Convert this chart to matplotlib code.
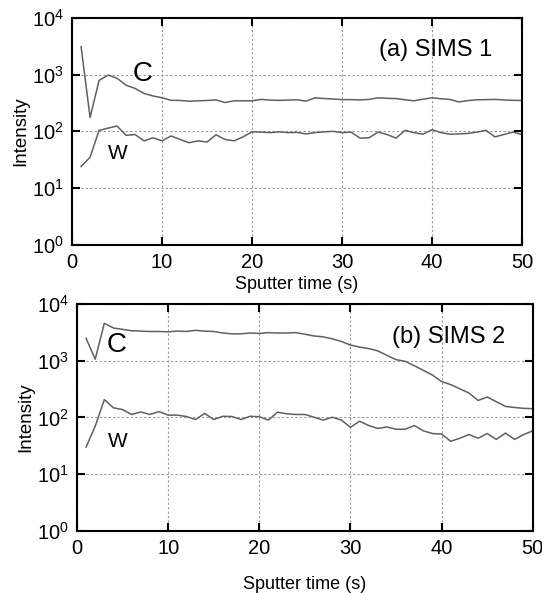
import numpy as np
import matplotlib
matplotlib.use("Agg")
import matplotlib.pyplot as plt
from matplotlib.ticker import LogLocator, NullLocator

plt.rcParams['font.family'] = ['Liberation Sans', 'DejaVu Sans']
plt.rcParams['mathtext.fontset'] = 'custom'
plt.rcParams['mathtext.rm'] = 'Liberation Sans'

# Время распыления, с
time_s = np.arange(1, 51)

# (a) SIMS 1
sims1_C = [3100, 175, 790, 980, 860, 650, 570, 465, 420, 390,
           352, 350, 340, 345, 350, 358, 322, 345, 345, 345,
           365, 355, 352, 355, 360, 340, 390, 378, 372, 362,
           362, 358, 365, 390, 382, 378, 360, 345, 368, 390,
           375, 365, 330, 348, 360, 362, 365, 358, 352, 350]
sims1_W = [24, 35, 104, 114, 124, 85, 88, 68, 77, 68,
           83, 72, 63, 68, 65, 87, 72, 68, 80, 98,
           97, 95, 98, 95, 96, 90, 95, 98, 100, 95,
           97, 76, 77, 97, 88, 76, 104, 95, 89, 107,
           95, 89, 90, 92, 97, 104, 80, 88, 97, 88]

# (b) SIMS 2
sims2_C = [2500, 1070, 4600, 3800, 3600, 3400, 3350, 3300, 3300, 3250,
           3350, 3300, 3450, 3350, 3300, 3100, 3000, 3000, 3100, 3050,
           3150, 3100, 3100, 3150, 2950, 2750, 2650, 2450, 2200, 1900,
           1750, 1650, 1500, 1250, 1050, 980, 820, 680, 560, 430,
           380, 320, 270, 200, 230, 190, 157, 150, 145, 143]
sims2_W = [30, 70, 207, 148, 138, 113, 125, 113, 127, 110,
           110, 104, 92, 118, 92, 105, 104, 92, 105, 103,
           90, 124, 116, 113, 113, 101, 90, 101, 90, 67,
           86, 72, 64, 68, 62, 62, 72, 58, 52, 51,
           38, 43, 50, 43, 52, 41, 53, 41, 50, 58]

LINE_COLOR = "#606060"


# Оформление одной панели
def style_axes(ax, title, title_xy, xlabelpad):
    ax.set_yscale("log")
    ax.set_xlim(0, 50)
    ax.set_ylim(1, 1e4)
    ax.set_xticks([0, 10, 20, 30, 40, 50])
    ax.yaxis.set_major_locator(LogLocator(base=10, numticks=10))
    ax.yaxis.set_minor_locator(NullLocator())
    ax.tick_params(which="major", direction="in", length=6, width=1.5,
                   top=True, right=True, labelsize=14.5, pad=6)
    for sp in ax.spines.values():
        sp.set_linewidth(1.5)
    ax.grid(True, which="major", linestyle=(0, (2, 2)), color="#999999", linewidth=0.8)
    ax.set_xlabel("Sputter time (s)", fontsize=13, labelpad=xlabelpad)
    ax.set_ylabel("Intensity", fontsize=13.5, labelpad=2)
    ax.text(title_xy[0], title_xy[1], title, transform=ax.transAxes, fontsize=17,
            ha="right", va="center")


fig = plt.figure(figsize=(5.42, 5.93), dpi=100)
ax1 = fig.add_axes([0.133, 0.587, 0.830, 0.383])
ax2 = fig.add_axes([0.142, 0.105, 0.841, 0.382])

ax1.plot(time_s, sims1_C, color=LINE_COLOR, linewidth=1.1)
ax1.plot(time_s, sims1_W, color=LINE_COLOR, linewidth=1.1)
style_axes(ax1, "(a) SIMS 1", (0.935, 0.86), 3)
ax1.text(7.8, 1040, "C", fontsize=20, ha="center", va="center")
ax1.text(5.1, 41, "W", fontsize=15, ha="center", va="center")

ax2.plot(time_s, sims2_C, color=LINE_COLOR, linewidth=1.1)
ax2.plot(time_s, sims2_W, color=LINE_COLOR, linewidth=1.1)
style_axes(ax2, "(b) SIMS 2", (0.94, 0.855), 13)
ax2.text(4.4, 1900, "C", fontsize=20, ha="center", va="center")
ax2.text(4.5, 38, "W", fontsize=15, ha="center", va="center")

fig.savefig("out.png", dpi=100)
